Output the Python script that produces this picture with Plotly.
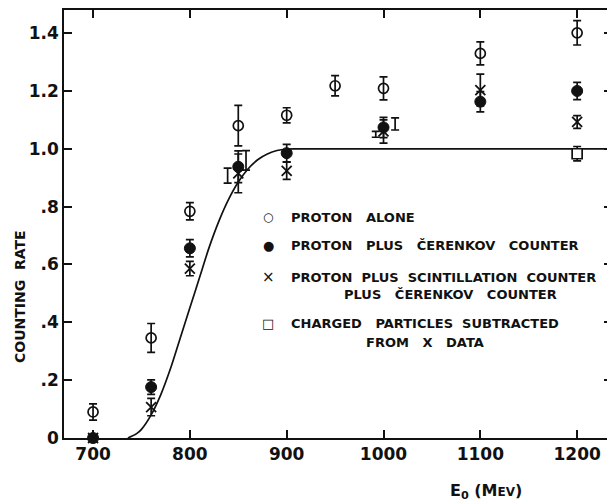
import plotly.graph_objects as go

# ---------------- data ----------------
# Proton alone (open circles)
alone_x = [700, 760, 800, 850, 900, 950, 1000, 1100, 1200]
alone_y = [0.09, 0.346, 0.784, 1.080, 1.116, 1.218, 1.209, 1.330, 1.401]
alone_e = [0.028, 0.05, 0.03, 0.07, 0.026, 0.035, 0.04, 0.04, 0.042]

# Proton plus Cerenkov counter (filled circles)
cer_x = [700, 760, 800, 850, 900, 1000, 1100, 1200]
cer_y = [0.0, 0.176, 0.656, 0.938, 0.985, 1.074, 1.163, 1.200]
cer_e = [0.0, 0.025, 0.03, 0.055, 0.03, 0.035, 0.035, 0.03]

# Proton plus scintillation counter plus Cerenkov counter (crosses)
sc_x = [700, 760, 800, 850, 900, 1000, 1100, 1200]
sc_y = [0.0, 0.107, 0.586, 0.915, 0.924, 1.060, 1.203, 1.093]
sc_e = [0.0, 0.03, 0.025, 0.067, 0.03, 0.04, 0.055, 0.022]

# Charged particles subtracted from X data (open squares)
sq_x = [1200]
sq_y = [0.983]
sq_e = [0.025]

# Offset bracket-style error bars drawn beside some points
br_x = [839, 858, 992, 1012]
br_y = [0.907, 0.960, 1.050, 1.086]
br_e = [0.026, 0.034, 0.010, 0.021]

# Theoretical curve
curve_x = [736, 745, 750, 760, 770, 780, 790, 800, 810, 820, 830, 840, 850,
           860, 870, 880, 890, 900, 910, 1236]
curve_y = [0.0, 0.015, 0.03, 0.08, 0.15, 0.24, 0.345, 0.45, 0.555, 0.66, 0.75,
           0.825, 0.885, 0.93, 0.962, 0.982, 0.994, 0.999, 1.0, 1.0]

x_ticks = [700, 800, 900, 1000, 1100, 1200]
x_labels = ["700", "800", "900", "1000", "1100", "1200"]
y_ticks = [0, 0.2, 0.4, 0.6, 0.8, 1.0, 1.2, 1.4]
y_labels = ["0", ".2", ".4", ".6", ".8", "1.0", "1.2", "1.4"]

S = "\u00a0\u00a0\u00a0"
S2 = "\u00a0\u00a0"
legend_text = [
    "PROTON" + S + "ALONE",
    "PROTON" + S + "PLUS" + S + "ČERENKOV" + S + "COUNTER",
    "PROTON" + S2 + "PLUS" + S2 + "SCINTILLATION" + S2 + "COUNTER",
    "PLUS" + S + "ČERENKOV" + S + "COUNTER",
    "CHARGED" + S + "PARTICLES" + S2 + "SUBTRACTED",
    "FROM" + S + "X" + S + "DATA",
]

FONT = "DejaVu Sans"
ink = "#111111"

# The page body adds an 8px margin; the figure is sized so that the
# plotting area lands where the reference has it in the 615x504 window.
OFF = 8
W, H = 615 - OFF, 504 - OFF
L, R, T, B = 64 - OFF, 3, 10 - OFF, 66  # plot area x 64..612, y 10..438 in window
PW = W - L - R
PH = H - T - B


def px_x(xw):
    return (xw - OFF - L) / PW


def px_y(yw):
    return 1 - (yw - OFF - T) / PH


def ebar(e):
    return dict(type="data", array=e, visible=True, color=ink, thickness=1.7, width=4)


fig = go.Figure()

fig.add_trace(go.Scatter(x=curve_x, y=curve_y, mode="lines",
                         line=dict(color=ink, width=1.7, shape="spline", smoothing=0.8),
                         hoverinfo="skip"))

fig.add_trace(go.Scatter(x=br_x, y=br_y, mode="markers",
                         marker=dict(size=1, color="rgba(0,0,0,0)"),
                         error_y=ebar(br_e)))

fig.add_trace(go.Scatter(x=sc_x, y=sc_y, mode="markers",
                         marker=dict(symbol="x-thin", size=10, line=dict(color=ink, width=1.8)),
                         error_y=ebar(sc_e)))

fig.add_trace(go.Scatter(x=cer_x, y=cer_y, mode="markers",
                         marker=dict(symbol="circle", size=11, color=ink,
                                     line=dict(color=ink, width=1)),
                         error_y=ebar(cer_e)))

fig.add_trace(go.Scatter(x=alone_x, y=alone_y, mode="markers",
                         marker=dict(symbol="circle-open", size=10, color=ink,
                                     line=dict(color=ink, width=1.7)),
                         error_y=ebar(alone_e)))

fig.add_trace(go.Scatter(x=sq_x, y=sq_y, mode="markers",
                         marker=dict(symbol="square", size=10, color="white",
                                     line=dict(color=ink, width=1.7)),
                         error_y=ebar(sq_e)))

for tr in fig.data:
    tr.cliponaxis = False

# legend as annotations
leg_font = dict(family=FONT, size=13, color=ink, weight="bold")
legend_rows = [
    ("○", 12, legend_text[0], 217, None, None, None),
    ("●", 13, legend_text[1], 245, None, None, None),
    ("×", 15, legend_text[2], 277, legend_text[3], 294, 450),
    ("□", 13, legend_text[4], 323, legend_text[5], 342, 425),
]
for sym, ssz, t1, y1, t2, y2, x2 in legend_rows:
    fig.add_annotation(xref="paper", yref="paper", x=px_x(268), y=px_y(y1),
                       text=sym, showarrow=False, xanchor="center", yanchor="middle",
                       font=dict(family=FONT, size=ssz, color=ink))
    fig.add_annotation(xref="paper", yref="paper", x=px_x(289), y=px_y(y1),
                       text=t1, showarrow=False, xanchor="left", yanchor="middle",
                       font=leg_font)
    if t2:
        fig.add_annotation(xref="paper", yref="paper", x=px_x(x2), y=px_y(y2),
                           text=t2, showarrow=False, xanchor="center", yanchor="middle",
                           font=leg_font)

# axis titles
fig.add_annotation(xref="paper", yref="paper", x=px_x(20), y=px_y(297),
                   text="COUNTING\u00a0\u00a0RATE", textangle=-90, showarrow=False,
                   xanchor="center", yanchor="middle",
                   font=dict(family=FONT, size=14, color=ink, weight="bold"))
fig.add_annotation(xref="paper", yref="paper", x=px_x(486), y=px_y(491),
                   text="E<sub>0</sub> (M<span style='font-size:12px'>EV</span>)",
                   showarrow=False, xanchor="center", yanchor="middle",
                   font=dict(family=FONT, size=16, color=ink, weight="bold"))

axis_common = dict(showline=True, linecolor=ink, linewidth=1.7, mirror="ticks",
                   ticks="inside", tickcolor=ink, tickwidth=1.5, ticklen=8,
                   showgrid=False, zeroline=False,
                   tickfont=dict(family=FONT, size=17, color=ink, weight="bold"))

fig.update_layout(
    width=W, height=H,
    margin=dict(l=L, r=R, t=T, b=B, autoexpand=False),
    paper_bgcolor="white", plot_bgcolor="white",
    showlegend=False,
    xaxis=dict(range=[670, 1236], tickvals=x_ticks, ticktext=x_labels, **axis_common),
    yaxis=dict(range=[0, 1.48], tickvals=y_ticks, ticktext=y_labels, **axis_common),
)

fig.write_html("out.html")
